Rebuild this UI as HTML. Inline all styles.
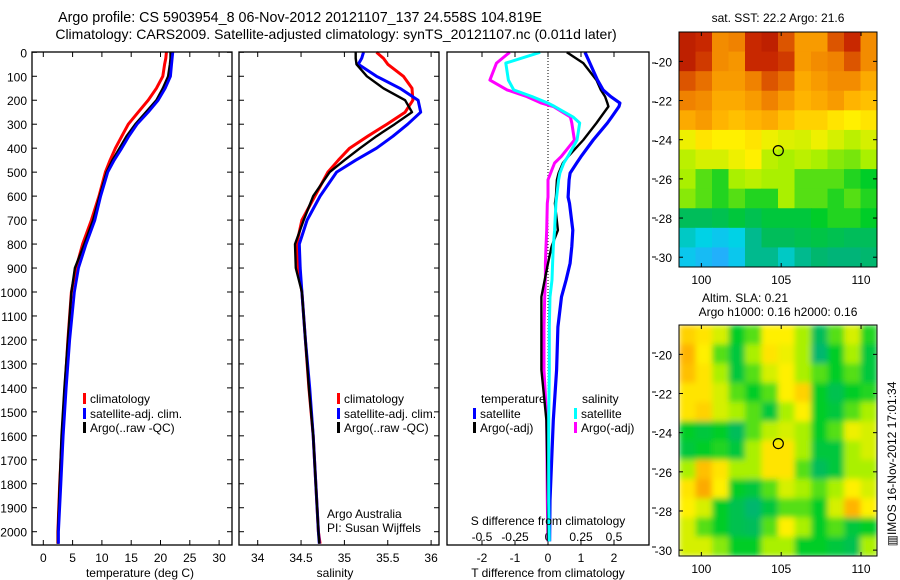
<!DOCTYPE html>
<html><head><meta charset="utf-8">
<style>
html,body{margin:0;padding:0;background:#fff;}
svg{display:block;font-family:"Liberation Sans",sans-serif;}
text{fill:#000;}
</style></head>
<body>
<svg id="fig" width="900" height="580" viewBox="0 0 900 580" xmlns="http://www.w3.org/2000/svg">
<defs>
<filter id="blur" x="0" y="0" width="1" height="1"><feGaussianBlur stdDeviation="3" edgeMode="duplicate"/></filter>
<clipPath id="clip1"><rect x="679" y="32" width="198" height="235"/></clipPath>
<clipPath id="clip2"><rect x="679" y="325" width="198" height="231"/></clipPath>
</defs>
<text x="300" y="22" font-size="14.3" text-anchor="middle">Argo profile: CS 5903954_8 06-Nov-2012 20121107_137 24.558S 104.819E</text>
<text x="336" y="39" font-size="14" text-anchor="middle">Climatology: CARS2009. Satellite-adjusted climatology: synTS_20121107.nc (0.011d later)</text>
<g id="g1"></g>
<g id="g2"></g>
<g id="g3"></g>
<g id="m1"></g>
<g id="m2"></g>
<text x="778" y="22" font-size="12" text-anchor="middle">sat. SST: 22.2 Argo: 21.6</text>
<text x="745" y="302" font-size="12" text-anchor="middle">Altim. SLA: 0.21</text>
<text x="778" y="316" font-size="12" text-anchor="middle">Argo h1000: 0.16 h2000: 0.16</text>
<text x="0" y="0" font-size="12" text-anchor="middle" transform="translate(896,464) rotate(-90)">▥IMOS 16-Nov-2012 17:01:34</text>
</svg>
<script>
// ---------- data ----------
const depths = [0,25,50,100,150,200,250,300,350,400,450,500,600,700,800,900,1000,1200,1400,1600,1800,2000,2050];
const tempClim = [21.0,20.9,20.7,20.4,19.3,17.9,16.2,14.5,13.4,12.3,11.4,10.6,9.5,8.2,6.7,5.6,4.8,4.2,3.7,3.2,2.8,2.5,2.5];
const tempSat  = [22.1,22.0,21.9,21.7,20.8,19.6,17.9,16.0,14.6,13.4,12.1,11.0,9.8,8.8,7.3,6.0,5.3,4.5,3.9,3.4,3.0,2.6,2.6];
const tempArgo = [21.7,21.7,21.6,21.3,20.4,19.3,17.5,15.7,14.2,13.0,11.8,10.8,9.6,8.5,7.0,5.4,4.8,4.2,3.6,3.1,2.8,2.5,2.5];
const salClim = [35.37,35.45,35.50,35.68,35.78,35.79,35.70,35.49,35.27,35.06,34.93,34.81,34.66,34.51,34.45,34.47,34.51,34.55,34.59,34.64,34.67,34.70,34.72];
const salSat  = [35.22,35.20,35.16,35.37,35.64,35.85,35.88,35.73,35.56,35.37,35.13,34.91,34.72,34.57,34.48,34.49,34.51,34.55,34.60,34.64,34.67,34.70,34.71];
const salArgo = [35.13,35.13,35.14,35.26,35.45,35.70,35.78,35.58,35.37,35.18,35.00,34.83,34.64,34.53,34.43,34.44,34.51,34.55,34.59,34.64,34.67,34.70,34.71];
const dDepths = [0,45,116,157,185,212,226,270,295,366,435,462,504,532,604,630,742,810,880,950,1020,1146,1325,1535,1870,2040];
const dTSat  = [1.12,1.27,1.50,1.67,1.90,2.18,2.15,1.93,1.80,1.37,1.00,0.87,0.67,0.64,0.61,0.65,0.75,0.72,0.67,0.55,0.41,0.30,0.26,0.16,0.06,0.05];
const dTArgo = [0.57,1.07,1.47,1.60,1.73,1.80,1.83,1.60,1.47,1.07,0.61,0.45,0.32,0.27,0.24,0.21,0.30,0.11,0.0,-0.10,-0.20,-0.20,-0.20,-0.05,0.0,0.0];
const dSSat  = [-0.06,-0.32,-0.30,-0.26,-0.12,0.0,0.05,0.19,0.24,0.22,0.15,0.12,0.09,0.08,0.065,0.06,0.05,0.04,0.035,0.03,0.015,0.01,0.01,0.005,0.005,0.01];
const dSArgo = [-0.29,-0.39,-0.44,-0.31,-0.16,-0.05,0.04,0.17,0.18,0.20,0.10,0.05,0.02,0.0,0.0,-0.005,-0.01,-0.015,-0.02,-0.02,-0.025,-0.03,-0.03,-0.01,-0.005,0.0];
const depthTicks = [0,100,200,300,400,500,600,700,800,900,1000,1100,1200,1300,1400,1500,1600,1700,1800,1900,2000];
const tempTicks = [0,5,10,15,20,25,30];
const salTicks = [34,34.5,35,35.5,36];
const dTTicks = [-2,-1,0,1,2];
const dSTicks = [-0.5,-0.25,0,0.25,0.5];
const dSTickLabels = ["-0.5","-0.25","0","0.25","0.5"];
const latTicks = [-20,-22,-24,-26,-28,-30];
const lonTicks = [100,105,110];
const sstGrid = [
[0.92,0.9,0.78,0.8,0.9,0.92,0.85,0.75,0.75,0.85,0.9,0.78],
[0.92,0.88,0.78,0.76,0.9,0.9,0.88,0.75,0.78,0.8,0.85,0.78],
[0.85,0.82,0.75,0.75,0.8,0.85,0.82,0.72,0.75,0.78,0.78,0.72],
[0.8,0.78,0.72,0.72,0.75,0.8,0.75,0.7,0.72,0.75,0.7,0.68],
[0.72,0.75,0.7,0.68,0.7,0.72,0.68,0.65,0.65,0.62,0.6,0.62],
[0.58,0.62,0.6,0.6,0.62,0.58,0.56,0.55,0.58,0.55,0.52,0.55],
[0.52,0.55,0.55,0.58,0.6,0.52,0.5,0.52,0.5,0.48,0.47,0.5],
[0.5,0.45,0.42,0.5,0.52,0.5,0.5,0.45,0.45,0.45,0.42,0.4],
[0.48,0.45,0.42,0.45,0.42,0.42,0.5,0.45,0.45,0.42,0.45,0.42],
[0.35,0.35,0.36,0.38,0.36,0.38,0.38,0.38,0.4,0.42,0.42,0.4],
[0.25,0.22,0.2,0.22,0.3,0.35,0.35,0.36,0.37,0.36,0.35,0.35],
[0.2,0.18,0.16,0.2,0.3,0.3,0.25,0.3,0.33,0.32,0.32,0.33]];
const slaGrid = [
[0.65,0.62,0.55,0.4,0.45,0.6,0.6,0.5,0.35,0.45,0.55,0.42],
[0.7,0.6,0.45,0.38,0.5,0.62,0.58,0.5,0.33,0.4,0.5,0.38],
[0.68,0.62,0.5,0.38,0.45,0.55,0.6,0.5,0.45,0.4,0.45,0.38],
[0.62,0.62,0.55,0.45,0.4,0.45,0.6,0.65,0.4,0.36,0.4,0.42],
[0.62,0.65,0.55,0.5,0.45,0.38,0.5,0.6,0.4,0.38,0.45,0.5],
[0.4,0.38,0.4,0.35,0.45,0.52,0.55,0.5,0.4,0.45,0.58,0.55],
[0.38,0.4,0.42,0.38,0.5,0.62,0.62,0.5,0.38,0.38,0.5,0.55],
[0.5,0.68,0.62,0.5,0.5,0.62,0.62,0.45,0.35,0.38,0.5,0.5],
[0.62,0.72,0.6,0.4,0.38,0.45,0.55,0.5,0.45,0.5,0.6,0.55],
[0.6,0.55,0.4,0.36,0.33,0.38,0.45,0.45,0.4,0.55,0.7,0.6],
[0.55,0.45,0.4,0.36,0.35,0.45,0.6,0.5,0.4,0.45,0.38,0.4],
[0.55,0.55,0.48,0.4,0.4,0.5,0.5,0.4,0.4,0.38,0.36,0.5]];
const argoLon = 104.819, argoLat = -24.558;

// ---------- helpers ----------
const NS="http://www.w3.org/2000/svg";
function mk(tag,attrs,parent){const e=document.createElementNS(NS,tag);for(const k in attrs)e.setAttribute(k,attrs[k]);parent.appendChild(e);return e;}
const yD = d => 52.3 + d*0.2397;
const TOP=52, BOT=545;
const xT = v => 43.3 + v*5.86;
const xS = v => 257.7 + (v-34)*86.7;
const xdT = v => 548 + v*33;
const xdS = v => 548 + v*132;

function frame(g,x0,x1,name){
  const r=mk('rect',{x:x0,y:TOP,width:x1-x0,height:BOT-TOP,fill:'none',stroke:'#000','stroke-width':1.3},g);
  
  
}
function line(g,xs,ds,xf,color,w,name){
  const pts=xs.map((v,i)=>xf(v).toFixed(1)+','+yD(ds[i]).toFixed(1)).join(' ');
  const p=mk('polyline',{points:pts,fill:'none',stroke:color,'stroke-width':w,'stroke-linejoin':'round'},g);
  
  
}
function txt(g,x,y,s,size,anchor,name){
  const t=mk('text',{x:x,y:y,'font-size':size,'text-anchor':anchor||'start'},g);
  t.textContent=s;
  
  
  return t;
}
function legend(g,x,y,color,label,name){
  const r=mk('rect',{x:x,y:y-10,width:3,height:11,fill:color},g);
  
  
  txt(g,x+7,y,label,12,'start',name);
}
function depthTickMarks(g,x0,x1){
  depthTicks.forEach(d=>{
    mk('line',{x1:x0,x2:x0+5,y1:yD(d),y2:yD(d),stroke:'#000'},g);
    mk('line',{x1:x1-5,x2:x1,y1:yD(d),y2:yD(d),stroke:'#000'},g);
  });
}

// ---------- temperature panel ----------
const g1=document.getElementById('g1');
depthTickMarks(g1,32,232);
depthTicks.forEach(d=>txt(g1,27,yD(d)+5,String(d),12,'end','depth-tick-label'));
tempTicks.forEach(v=>{
  mk('line',{x1:xT(v),x2:xT(v),y1:TOP,y2:TOP+5,stroke:'#000'},g1);
  mk('line',{x1:xT(v),x2:xT(v),y1:BOT-5,y2:BOT,stroke:'#000'},g1);
  txt(g1,xT(v),562,String(v),12,'middle','temperature-tick-label');
});
line(g1,tempClim,depths,xT,'#f00',3,'temp-climatology-line');
line(g1,tempArgo,depths,xT,'#000',2.4,'temp-argo-line');
line(g1,tempSat,depths,xT,'#00f',2.8,'temp-satellite-line');
frame(g1,32,232,'temperature-axes');
txt(g1,140,577,'temperature (deg C)',12,'middle','temperature-axis-title');
legend(g1,83,403,'#f00','climatology','legend-climatology');
legend(g1,83,418,'#00f','satellite-adj. clim.','legend-satellite');
legend(g1,83,432,'#000','Argo(..raw -QC)','legend-argo');

// ---------- salinity panel ----------
const g2=document.getElementById('g2');
depthTickMarks(g2,239,439);
salTicks.forEach(v=>{
  mk('line',{x1:xS(v),x2:xS(v),y1:TOP,y2:TOP+5,stroke:'#000'},g2);
  mk('line',{x1:xS(v),x2:xS(v),y1:BOT-5,y2:BOT,stroke:'#000'},g2);
  txt(g2,xS(v),562,String(v),12,'middle','salinity-tick-label');
});
line(g2,salClim,depths,xS,'#f00',3,'sal-climatology-line');
line(g2,salSat,depths,xS,'#00f',3,'sal-satellite-line');
line(g2,salArgo,depths,xS,'#000',2.4,'sal-argo-line');
frame(g2,239,439,'salinity-axes');
txt(g2,335,577,'salinity',12,'middle','salinity-axis-title');
legend(g2,337,403,'#f00','climatology','legend-climatology-2');
legend(g2,337,418,'#00f','satellite-adj. clim.','legend-satellite-2');
legend(g2,337,432,'#000','Argo(..raw -QC)','legend-argo-2');
txt(g2,327,518,'Argo Australia',12,'start','credit-argo-australia');
txt(g2,327,532,'PI: Susan Wijffels',12,'start','credit-pi');

// ---------- difference panel ----------
const g3=document.getElementById('g3');
mk('line',{x1:xdT(0),x2:xdT(0),y1:TOP,y2:BOT,stroke:'#000','stroke-dasharray':'1,2'},g3);
dTTicks.forEach(v=>{
  mk('line',{x1:xdT(v),x2:xdT(v),y1:TOP,y2:TOP+5,stroke:'#000'},g3);
  mk('line',{x1:xdT(v),x2:xdT(v),y1:BOT-5,y2:BOT,stroke:'#000'},g3);
  txt(g3,xdT(v),562,String(v),12,'middle','t-diff-tick-label');
});
dSTicks.forEach((v,i)=>txt(g3,xdS(v),541,dSTickLabels[i],12,'middle','s-diff-tick-label'));
[63,102,141,179,218,257,353,392,432,469,508,547].forEach(y=>mk('line',{x1:652,x2:656,y1:y,y2:y,stroke:'#000'},g3));
line(g3,dSArgo,dDepths,xdS,'#f0f',3,'s-diff-argo-line');
line(g3,dTArgo,dDepths,xdT,'#000',2.4,'t-diff-argo-line');
line(g3,dTSat,dDepths,xdT,'#00f',3.2,'t-diff-satellite-line');
line(g3,dSSat,dDepths,xdS,'#0ff',3,'s-diff-satellite-line');
frame(g3,447,649,'difference-axes');
txt(g3,548,525,'S difference from climatology',12,'middle','s-diff-axis-title');
txt(g3,548,577,'T difference from climatology',12,'middle','t-diff-axis-title');
txt(g3,481,403,'temperature',12,'start','legend-temperature-heading');
legend(g3,473,418,'#00f','satellite','legend-t-satellite');
legend(g3,473,432,'#000','Argo(-adj)','legend-t-argo');
txt(g3,582,403,'salinity',12,'start','legend-salinity-heading');
legend(g3,574,418,'#0ff','satellite','legend-s-satellite');
legend(g3,574,432,'#f0f','Argo(-adj)','legend-s-argo');

// ---------- maps ----------
const stops=[[0.0,[0,0,200]],[0.15,[40,170,255]],[0.22,[0,210,230]],[0.32,[0,180,120]],[0.4,[0,205,40]],[0.5,[170,240,0]],[0.6,[255,240,0]],[0.7,[255,180,0]],[0.8,[240,130,0]],[0.9,[200,40,0]],[1.0,[150,0,0]]];
function cmap(v){
  for(let i=1;i<stops.length;i++){
    if(v<=stops[i][0]){const a=stops[i-1],b=stops[i];const t=(v-a[0])/(b[0]-a[0]);
      const c=a[1].map((x,k)=>Math.round(x+(b[1][k]-x)*t));return 'rgb('+c.join(',')+')';}
  }
  return 'rgb(150,0,0)';
}
function drawMap(id,grid,top,bot,latTop,latBot,prefix,clip,blur){
  const g=document.getElementById(id);
  const L=679,R=877,lon0=98.6,lon1=111;
  const xL=lon=>L+(lon-lon0)*(R-L)/(lon1-lon0);
  const yL=lat=>top+(latTop-lat)*(bot-top)/(latTop-latBot);
  const rows=grid.length,cols=grid[0].length;
  const cw=(R-L)/cols,ch=(bot-top)/rows;
  const cg=mk('g',{'clip-path':'url(#'+clip+')'},g);
  const cells=mk('g',blur?{filter:'url(#blur)'}:{},cg);
  grid.forEach((row,r)=>row.forEach((v,c)=>{
    const e=mk('rect',{x:(L+c*cw).toFixed(2),y:(top+r*ch).toFixed(2),width:(cw+0.6).toFixed(2),height:(ch+0.6).toFixed(2),fill:cmap(v)},cells);
    
    
  }));
  const f=mk('rect',{x:L,y:top,width:R-L,height:bot-top,fill:'none',stroke:'#000','stroke-width':1},g);
  
  
  latTicks.forEach(lat=>{
    const y=yL(lat);
    mk('line',{x1:L,x2:L+4,y1:y,y2:y,stroke:'#000'},g);
    mk('line',{x1:R-4,x2:R,y1:y,y2:y,stroke:'#000'},g);
    txt(g,672,y+5,String(lat),12,'end',prefix+'-lat-label');
  });
  lonTicks.forEach(lon=>{
    const x=xL(lon);
    mk('line',{x1:x,x2:x,y1:top,y2:top+4,stroke:'#000'},g);
    mk('line',{x1:x,x2:x,y1:bot-4,y2:bot,stroke:'#000'},g);
    txt(g,x,bot+17,String(lon),12,'middle',prefix+'-lon-label');
  });
  const c=mk('circle',{cx:xL(argoLon),cy:yL(argoLat),r:5,fill:'none',stroke:'#000','stroke-width':1.2},g);
  
  
}
drawMap('m1',sstGrid,32,267,-18.5,-30.5,'sst-map','clip1',false);
drawMap('m2',slaGrid,325,556,-18.5,-30.3,'sla-map','clip2',true);
</script>
</body></html>
